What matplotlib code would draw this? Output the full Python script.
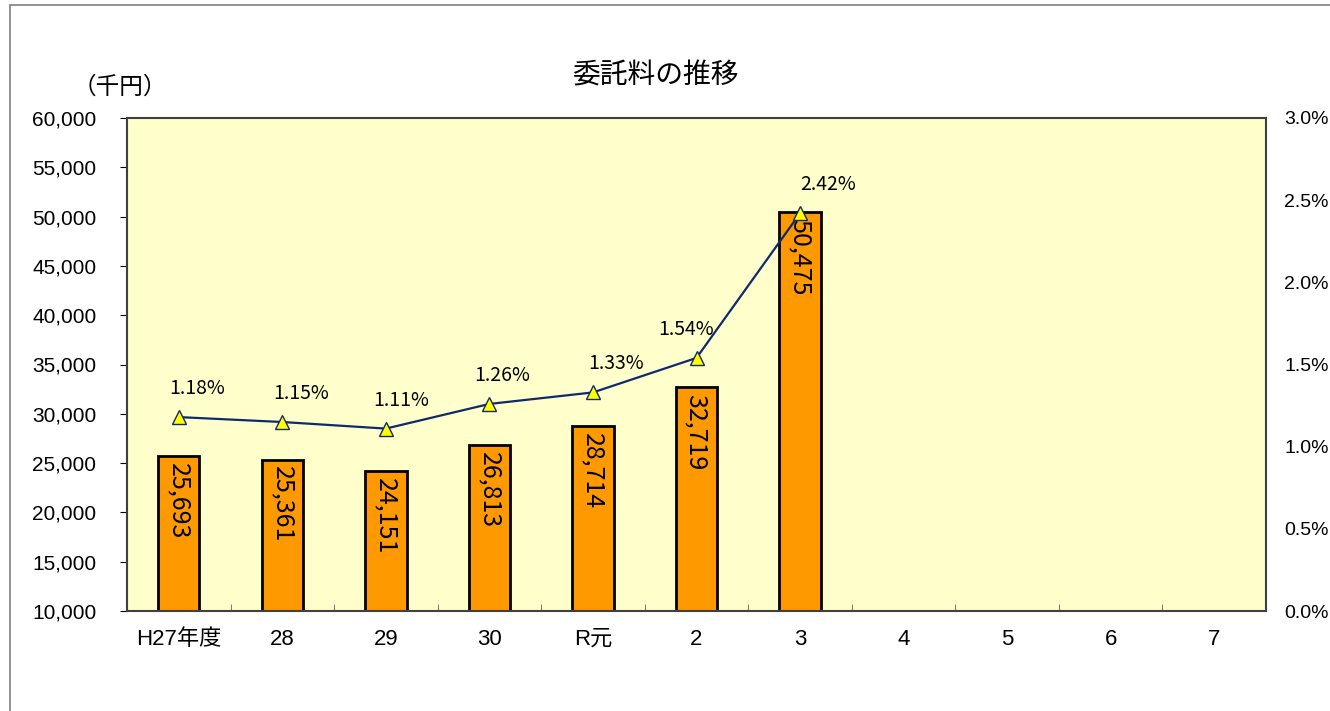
import matplotlib
matplotlib.use("Agg")
import matplotlib.pyplot as plt
from matplotlib.patches import Rectangle
from matplotlib.ticker import FuncFormatter, FixedLocator

plt.rcParams['font.family'] = ['Liberation Sans', 'Noto Sans CJK JP']

# data
years = ['H27年度', '28', '29', '30', 'R元', '2', '3', '4', '5', '6', '7']
cost = [25693, 25361, 24151, 26813, 28714, 32719, 50475]
ratio = [1.18, 1.15, 1.11, 1.26, 1.33, 1.54, 2.42]
# horizontal nudge of the % labels (category units)
lbl_dx = [0.18, 0.18, 0.15, 0.12, 0.22, -0.1, 0.27]

fig = plt.figure(figsize=(13.3, 7.11), dpi=100)
# outer chart frame
fig.patches.append(Rectangle((10/1330, -0.1), 1.2, (711-5)/711 + 0.1,
                             transform=fig.transFigure, fill=False,
                             edgecolor='#808080', linewidth=1.2))

ax = fig.add_axes([127/1330, 1-611/711, (1266-127)/1330, (611-118)/711])
ax.set_facecolor('#FFFFCC')
x = list(range(len(years)))
n = len(cost)
ax.bar(x[:n], cost, width=0.4, color='#FF9900', edgecolor='black', linewidth=2, zorder=2)
ax.set_xlim(-0.5, len(years) - 0.5)
ax.set_ylim(10000, 60000)
ax.set_yticks(range(10000, 60001, 5000))
ax.yaxis.set_major_formatter(FuncFormatter(lambda v, p: f'{int(v):,}'))
ax.tick_params(axis='y', labelsize=15, direction='out', length=5, pad=17)
ax.set_xticks(x)
ax.set_xticklabels(years, fontsize=16)
ax.tick_params(axis='x', length=0, pad=13)
# small inward ticks between categories
ax.xaxis.set_minor_locator(FixedLocator([i + 0.5 for i in range(len(years) - 1)]))
ax.tick_params(axis='x', which='minor', direction='in', length=5, color='#606060')
for s in ax.spines.values():
    s.set_color('#404040')
    s.set_linewidth(1.5)

for i, v in enumerate(cost):
    ax.text(i, v - 700, f'{v:,}', rotation=270, ha='center', va='top',
            fontsize=18, family=['Noto Sans CJK JP'], zorder=3)

ax2 = ax.twinx()
ax2.plot(x[:n], ratio, color='#0F2A6B', linewidth=1.6, marker='^', markersize=10,
         markerfacecolor='#FFFF00', markeredgecolor='#0F2A6B', markeredgewidth=1, zorder=4)
ax2.set_ylim(0, 3.0)
ax2.set_yticks([0, 0.5, 1.0, 1.5, 2.0, 2.5, 3.0])
ax2.yaxis.set_major_formatter(FuncFormatter(lambda v, p: f'{v:.1f}%'))
ax2.tick_params(axis='y', labelsize=14, length=0, pad=13)
for s in ax2.spines.values():
    s.set_visible(False)

for i, r in enumerate(ratio):
    ax2.text(i + lbl_dx[i], r + 0.11, f'{r:.2f}%', ha='center', va='bottom',
             fontsize=14, family=['Noto Sans CJK JP'])

fig.text(655/1330, 1-75/711, '委託料の推移', ha='center', va='center',
         fontsize=20, family=['Noto Sans CJK JP'])
fig.text(120/1330, 1-87/711, '（千円）', ha='center', va='center',
         fontsize=17, family=['Noto Sans CJK JP'])

fig.savefig('out.png', dpi=100)
